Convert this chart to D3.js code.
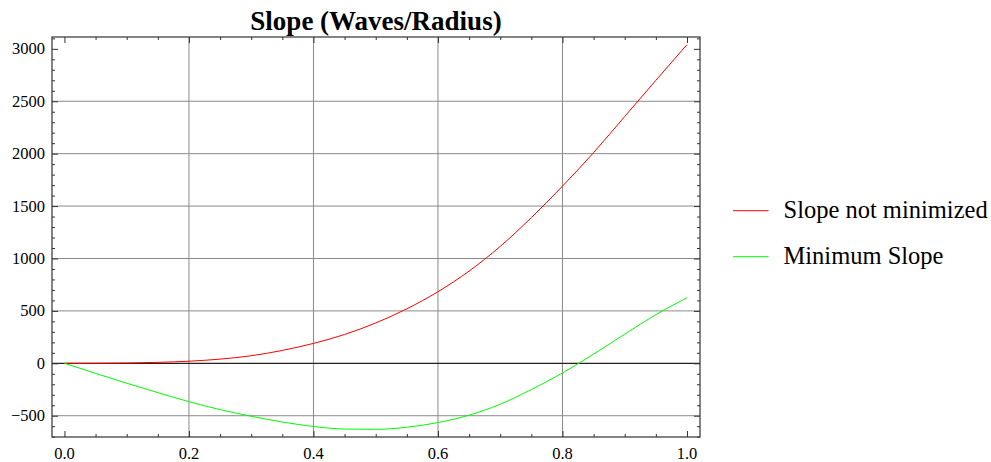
<!DOCTYPE html>
<html>
<head>
<meta charset="utf-8">
<script src="https://cdn.jsdelivr.net/npm/d3@7"></script>
<style>
  body { margin: 0; background: #fff; }
  svg { display: block; }
  svg text { font-family: "Liberation Serif", "DejaVu Serif", serif; fill: #000; }
</style>
</head>
<body>
<svg id="chart" width="991" height="462"></svg>
<script>
const radius = [0, 0.05, 0.1, 0.15, 0.2, 0.25, 0.3, 0.35, 0.4, 0.45, 0.5,
  0.55, 0.6, 0.65, 0.7, 0.75, 0.8, 0.85, 0.9, 0.95, 1.0];
const slopeNotMinimized = [0, 0.5, 3, 9, 20, 40, 72, 123, 190, 275, 385,
  520, 683, 880, 1115, 1390, 1690, 2010, 2355, 2700, 3040];
const minimumSlope = [0, -96, -190, -280, -366, -442, -505, -560, -603, -627, -630,
  -610, -565, -495, -390, -250, -92, 88, 278, 465, 625];

const xTicks = [0, 0.2, 0.4, 0.6, 0.8, 1.0];
const yTicks = [-500, 0, 500, 1000, 1500, 2000, 2500, 3000];
const xGrid = [0.2, 0.4, 0.6, 0.8];
const yGrid = [-500, 500, 1000, 1500, 2000, 2500];

const series = [
  { name: "Slope not minimized", values: slopeNotMinimized, color: "#ff0000" },
  { name: "Minimum Slope", values: minimumSlope, color: "#00ff00" },
];

const plotLeft = 52, plotRight = 700, plotTop = 37, plotBottom = 437;

const x = d3.scaleLinear().domain([-0.02, 1.0209]).range([plotLeft, plotRight]);
const y = d3.scaleLinear().domain([-703, 3113]).range([plotBottom, plotTop]);

const svg = d3.select("#chart");

// grid
svg.append("g").selectAll("line")
  .data(xGrid)
  .join("line")
  .attr("x1", (d) => x(d)).attr("x2", (d) => x(d))
  .attr("y1", plotTop).attr("y2", plotBottom)
  .attr("stroke", "#8a8a8a").attr("stroke-width", 1);

svg.append("g").selectAll("line")
  .data(yGrid)
  .join("line")
  .attr("x1", plotLeft).attr("x2", plotRight)
  .attr("y1", (d) => y(d)).attr("y2", (d) => y(d))
  .attr("stroke", "#8a8a8a").attr("stroke-width", 1);

// zero line
svg.append("line")
  .attr("x1", plotLeft).attr("x2", plotRight)
  .attr("y1", y(0)).attr("y2", y(0))
  .attr("stroke", "#222").attr("stroke-width", 1.2);

// curves
const line = d3.line()
  .x((d) => x(d[0]))
  .y((d) => y(d[1]))
  .curve(d3.curveMonotoneX);

for (const s of series) {
  svg.append("path")
    .datum(radius.map((r, i) => [r, s.values[i]]))
    .attr("fill", "none")
    .attr("stroke", s.color)
    .attr("stroke-width", 1)
    .attr("d", line);
}

// ticks on all four sides, pointing inward
const xMinor = d3.range(0, 1.0001, 0.05)
  .filter((v) => !xTicks.some((t) => Math.abs(t - v) < 1e-6));
const yMinor = d3.range(-700, 3101, 100).filter((v) => !yTicks.includes(v));

function ticks(axis, scale, values, size, translate) {
  svg.append("g")
    .attr("transform", translate)
    .call(axis(scale).tickValues(values).tickSize(size).tickFormat(""))
    .call((g) => g.select(".domain").remove())
    .call((g) => g.selectAll("line").attr("stroke", "#333"));
}

ticks(d3.axisTop, x, xTicks, 6, `translate(0,${plotBottom})`);
ticks(d3.axisTop, x, xMinor, 3, `translate(0,${plotBottom})`);
ticks(d3.axisBottom, x, xTicks, 6, `translate(0,${plotTop})`);
ticks(d3.axisBottom, x, xMinor, 3, `translate(0,${plotTop})`);
ticks(d3.axisRight, y, yTicks, 6, `translate(${plotLeft},0)`);
ticks(d3.axisRight, y, yMinor, 3, `translate(${plotLeft},0)`);
ticks(d3.axisLeft, y, yTicks, 6, `translate(${plotRight},0)`);
ticks(d3.axisLeft, y, yMinor, 3, `translate(${plotRight},0)`);

svg.append("rect")
  .attr("x", plotLeft).attr("y", plotTop)
  .attr("width", plotRight - plotLeft).attr("height", plotBottom - plotTop)
  .attr("fill", "none").attr("stroke", "#333").attr("stroke-width", 1.2);

// tick labels
svg.append("g").selectAll("text")
  .data(xTicks)
  .join("text")
  .attr("x", (d) => x(d))
  .attr("y", 459)
  .attr("text-anchor", "middle")
  .attr("font-size", 16.5)
  .text((d) => d3.format(".1f")(d));

svg.append("g").selectAll("text")
  .data(yTicks)
  .join("text")
  .attr("x", 45)
  .attr("y", (d) => y(d) + 5.5)
  .attr("text-anchor", "end")
  .attr("font-size", 16.5)
  .text((d) => (d < 0 ? "\u2212" + Math.abs(d) : d));

// title
svg.append("text")
  .attr("x", (plotLeft + plotRight) / 2)
  .attr("y", 30)
  .attr("text-anchor", "middle")
  .attr("font-size", 27)
  .attr("font-weight", "bold")
  .text("Slope (Waves/Radius)");

// legend
const legend = svg.append("g").selectAll("g")
  .data(series)
  .join("g")
  .attr("transform", (d, i) => `translate(733,${210.7 + i * 46})`);

legend.append("line")
  .attr("x1", 0).attr("x2", 35.5)
  .attr("stroke", (d) => d.color)
  .attr("stroke-width", 1);

legend.append("text")
  .attr("x", 50.5)
  .attr("y", 6.8)
  .attr("font-size", 24.5)
  .text((d) => d.name);
</script>
</body>
</html>
